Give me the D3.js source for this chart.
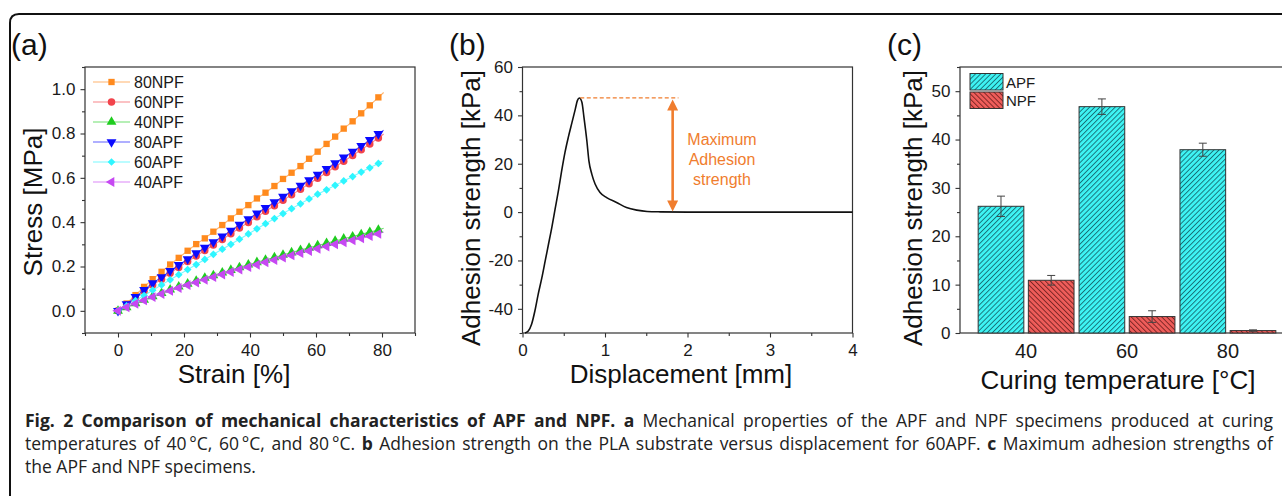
<!DOCTYPE html>
<html>
<head>
<meta charset="utf-8">
<script src="https://cdn.jsdelivr.net/npm/d3@7"></script>
<style>
    body { margin: 0; background: #fff; }
    svg { display: block; font-family: "Liberation Sans", Arial, sans-serif; }
    .caption { font-family: "Open Sans", "Noto Sans", sans-serif; }
</style>
</head>
<body>
<script>
//chart data
//(a) stress-strain curves, markers on every point except the last one
var strainPct = [0, 2.6, 5.3, 7.9, 10.5, 13.2, 15.8, 18.4, 21.1, 23.7, 26.3, 28.9, 31.6, 34.2, 36.8, 39.5,
    42.1, 44.7, 47.4, 50.0, 52.6, 55.3, 57.9, 60.5, 63.2, 65.8, 68.4, 71.1, 73.7, 76.3, 78.9, 80.5];
var stress80NPF = [0, 0.033, 0.071, 0.108, 0.143, 0.176, 0.209, 0.239, 0.271, 0.301, 0.327, 0.357, 0.387, 0.417, 0.447, 0.477,
    0.507, 0.533, 0.563, 0.595, 0.623, 0.653, 0.686, 0.718, 0.753, 0.786, 0.822, 0.855, 0.891, 0.927, 0.963, 0.985];
var stress60NPF = [0, 0.028, 0.058, 0.088, 0.116, 0.143, 0.170, 0.196, 0.222, 0.247, 0.272, 0.297, 0.322, 0.348, 0.374, 0.399,
    0.424, 0.449, 0.474, 0.499, 0.524, 0.548, 0.573, 0.598, 0.624, 0.650, 0.675, 0.701, 0.727, 0.753, 0.780, 0.798];
var stress40NPF = [0, 0.016, 0.033, 0.049, 0.065, 0.080, 0.095, 0.109, 0.122, 0.135, 0.148, 0.160, 0.172, 0.184, 0.196, 0.208,
    0.219, 0.230, 0.241, 0.252, 0.263, 0.274, 0.284, 0.295, 0.305, 0.315, 0.325, 0.335, 0.345, 0.355, 0.365, 0.373];
var stress80APF = [0, 0.030, 0.063, 0.095, 0.125, 0.152, 0.180, 0.207, 0.233, 0.260, 0.285, 0.310, 0.336, 0.362, 0.389, 0.414,
    0.440, 0.465, 0.490, 0.515, 0.540, 0.565, 0.590, 0.615, 0.641, 0.667, 0.692, 0.718, 0.744, 0.771, 0.798, 0.815];
var stress60APF = [0, 0.022, 0.046, 0.069, 0.093, 0.117, 0.140, 0.163, 0.186, 0.209, 0.232, 0.255, 0.278, 0.300, 0.323, 0.347,
    0.370, 0.393, 0.416, 0.439, 0.461, 0.483, 0.505, 0.526, 0.546, 0.566, 0.586, 0.606, 0.626, 0.645, 0.665, 0.677];
var stress40APF = [0, 0.016, 0.032, 0.047, 0.062, 0.076, 0.090, 0.103, 0.116, 0.128, 0.140, 0.152, 0.164, 0.175, 0.186, 0.197,
    0.208, 0.219, 0.229, 0.240, 0.250, 0.260, 0.270, 0.280, 0.290, 0.300, 0.309, 0.318, 0.327, 0.337, 0.347, 0.356];
var seriesNames = ["80NPF", "60NPF", "40NPF", "80APF", "60APF", "40APF"];
var seriesStress = [stress80NPF, stress60NPF, stress40NPF, stress80APF, stress60APF, stress40APF];

//(b) adhesion strength vs displacement for 60APF
var dispMm = [0.03, 0.07, 0.11, 0.15, 0.19, 0.235, 0.275, 0.315, 0.355, 0.395, 0.435, 0.475, 0.515, 0.555, 0.6, 0.64,
    0.665, 0.69, 0.72, 0.745, 0.78, 0.805, 0.84, 0.88, 0.94, 1.02, 1.14, 1.26, 1.385, 1.51, 1.67, 2.0, 3.0, 4.0];
var adhesionKPa = [-50, -49.2, -46.4, -40.9, -34, -27.1, -20.2, -13.3, -6.4, 1.2, 8.8, 17.1, 24.7, 30.9, 37.1, 42.6,
    46.1, 47.2, 45.4, 39.2, 29.5, 21.2, 15.7, 11.6, 8.1, 6.0, 4.0, 1.9, 0.8, 0.25, 0.1, 0, 0, 0];
var peakKPa = 47.2;
var peakLineMm = [0.70, 1.89]; //dashed line extent
var arrowMm = 1.82;

//(c) maximum adhesion strength
var curingTemps = ["40", "60", "80"];
var apfKPa = [26.2, 46.8, 37.9];
var apfErr = [2.1, 1.6, 1.35];
var npfKPa = [10.9, 3.4, 0.5];
var npfErr = [1.0, 1.2, 0.15];

//caption lines, bold flag per piece
var captionLines = [
    [["Fig. 2 Comparison of mechanical characteristics of APF and NPF. ", true], ["a", true],
        [" Mechanical properties of the APF and NPF specimens produced at curing", false]],
    [["temperatures of 40\u2009°C, 60\u2009°C, and 80\u2009°C. ", false], ["b", true],
        [" Adhesion strength on the PLA substrate versus displacement for 60APF. ", false], ["c", true],
        [" Maximum adhesion strengths of", false]],
    [["the APF and NPF specimens.", false]]
];

(function () {

    var width = 1282,
        height = 496;
    var top = 67, bottom = 333;
    var axisColor = "#333", textColor = "#1a1a1a";

    var svg = d3.select("body")
        .append("svg")
        .attr("width", width)
        .attr("height", height);

    svg.append("rect").attr("width", width).attr("height", height).attr("fill", "#fff");

    //outer rounded frame (only left and top edges are in view)
    svg.append("path")
        .attr("d", "M10,500 L10,23 Q10,14 19,14 L1290,14")
        .attr("fill", "none")
        .attr("stroke", "#111")
        .attr("stroke-width", 2);

    var defs = svg.append("defs");
    makeHatch("hatchAPF", "#3ef4f4", "#0d4d55", 45);
    makeHatch("hatchNPF", "#ef5d5a", "#5a1616", -45);

    setPanelA();
    setPanelB();
    setPanelC();
    setCaption();

    function makeHatch(id, fill, stroke, angle) {
        var p = defs.append("pattern")
            .attr("id", id)
            .attr("patternUnits", "userSpaceOnUse")
            .attr("width", 3.6)
            .attr("height", 3.6)
            .attr("patternTransform", "rotate(" + angle + ")");
        p.append("rect").attr("width", 3.6).attr("height", 3.6).attr("fill", fill);
        p.append("line")
            .attr("x1", 0.5).attr("y1", 0).attr("x2", 0.5).attr("y2", 3.6)
            .attr("stroke", stroke).attr("stroke-width", 0.75);
    }

    //plain box on top/right, ticks are added per axis
    function drawFrame(x0, x1) {
        svg.append("rect")
            .attr("x", x0).attr("y", top)
            .attr("width", x1 - x0).attr("height", bottom - top)
            .attr("fill", "none")
            .attr("stroke", axisColor)
            .attr("stroke-width", 1.2);
    }

    function styleAxis(g, size) {
        g.select(".domain").remove();
        g.selectAll("line").attr("stroke", axisColor).attr("stroke-width", 1.1);
        g.selectAll("text").attr("fill", textColor).style("font-size", size + "px");
    }

    function panelLabel(txt, x) {
        svg.append("text")
            .attr("x", x).attr("y", 55)
            .style("font-size", "30px")
            .attr("fill", "#111")
            .text(txt);
    }

    function axisTitles(xt, xx, xy, yt, yx, yy) {
        svg.append("text")
            .attr("x", xx).attr("y", xy)
            .attr("text-anchor", "middle")
            .style("font-size", "26px")
            .attr("fill", "#111")
            .text(xt);
        svg.append("text")
            .attr("transform", "translate(" + yx + "," + yy + ") rotate(-90)")
            .attr("text-anchor", "middle")
            .style("font-size", "26px")
            .attr("fill", "#111")
            .text(yt);
    }

    function setPanelA() {
        var x = d3.scaleLinear().domain([-10, 90]).range([85, 415]);
        var y = d3.scaleLinear().domain([-0.1, 1.1]).range([bottom, top]);
        var colors = ["#ff8a1e", "#f2434b", "#1fcc1f", "#0a0aff", "#2ef6ff", "#c648f2"];
        var symbols = [
            {type: d3.symbolSquare, size: 40, rot: 0},
            {type: d3.symbolCircle, size: 44, rot: 0},
            {type: d3.symbolTriangle, size: 42, rot: 0},
            {type: d3.symbolTriangle, size: 42, rot: 180},
            {type: d3.symbolSquare, size: 30, rot: 45},
            {type: d3.symbolTriangle, size: 42, rot: -90}
        ];

        drawFrame(85, 415);

        svg.append("g").attr("transform", "translate(0," + bottom + ")")
            .call(d3.axisBottom(x).tickValues([-10, 10, 30, 50, 70, 90]).tickSize(3).tickFormat(""))
            .call(styleAxis, 17);
        svg.append("g").attr("transform", "translate(0," + bottom + ")")
            .call(d3.axisBottom(x).tickValues([0, 20, 40, 60, 80]).tickSize(4.5).tickPadding(6))
            .call(styleAxis, 17);
        svg.append("g").attr("transform", "translate(85,0)")
            .call(d3.axisLeft(y).tickValues([-0.1, 0.1, 0.3, 0.5, 0.7, 0.9, 1.1]).tickSize(3).tickFormat(""))
            .call(styleAxis, 17);
        svg.append("g").attr("transform", "translate(85,0)")
            .call(d3.axisLeft(y).tickValues([0, 0.2, 0.4, 0.6, 0.8, 1.0]).tickSize(4.5).tickPadding(5).tickFormat(d3.format(".1f")))
            .call(styleAxis, 17);

        var line = d3.line()
            .x(function (d) { return x(d[0]); })
            .y(function (d) { return y(d[1]); });

        seriesStress.forEach(function (vals, i) {
            var pts = strainPct.map(function (s, k) { return [s, vals[k]]; });
            svg.append("path")
                .datum(pts)
                .attr("d", line)
                .attr("fill", "none")
                .attr("stroke", colors[i])
                .attr("stroke-opacity", 0.65)
                .attr("stroke-width", 1.1);
            svg.selectAll(".mk" + i)
                .data(pts.slice(0, pts.length - 1))
                .enter()
                .append("path")
                .attr("class", "mk" + i)
                .attr("d", d3.symbol().type(symbols[i].type).size(symbols[i].size))
                .attr("transform", function (d) {
                    return "translate(" + x(d[0]) + "," + y(d[1]) + ") rotate(" + symbols[i].rot + ")";
                })
                .attr("fill", colors[i]);
        });

        //legend
        seriesNames.forEach(function (name, i) {
            var ly = 82 + i * 20;
            svg.append("line")
                .attr("x1", 93).attr("x2", 130).attr("y1", ly).attr("y2", ly)
                .attr("stroke", colors[i]).attr("stroke-opacity", 0.65).attr("stroke-width", 1.1);
            svg.append("path")
                .attr("d", d3.symbol().type(symbols[i].type).size(symbols[i].size))
                .attr("transform", "translate(111.5," + ly + ") rotate(" + symbols[i].rot + ")")
                .attr("fill", colors[i]);
            svg.append("text")
                .attr("x", 134).attr("y", ly + 6)
                .style("font-size", "16px")
                .attr("fill", textColor)
                .text(name);
        });

        panelLabel("(a)", 11);
        axisTitles("Strain [%]", 234, 383, "Stress [MPa]", 41.5, 202);
    }

    function setPanelB() {
        var x = d3.scaleLinear().domain([0, 4]).range([522.5, 852.5]);
        var y = d3.scaleLinear().domain([-50, 60]).range([bottom, top]);
        var orange = "#f07d2e";

        drawFrame(522.5, 852.5);

        svg.append("g").attr("transform", "translate(0," + bottom + ")")
            .call(d3.axisBottom(x).tickValues([0.5, 1.5, 2.5, 3.5]).tickSize(3).tickFormat(""))
            .call(styleAxis, 17);
        svg.append("g").attr("transform", "translate(0," + bottom + ")")
            .call(d3.axisBottom(x).tickValues([0, 1, 2, 3, 4]).tickSize(4.5).tickPadding(6).tickFormat(function (d) { return String(d); }))
            .call(styleAxis, 17);
        svg.append("g").attr("transform", "translate(522.5,0)")
            .call(d3.axisLeft(y).tickValues([-50, -30, -10, 10, 30, 50]).tickSize(3).tickFormat(""))
            .call(styleAxis, 17);
        svg.append("g").attr("transform", "translate(522.5,0)")
            .call(d3.axisLeft(y).tickValues([-40, -20, 0, 20, 40, 60]).tickSize(4.5).tickPadding(5).tickFormat(function (d) { return String(d); }))
            .call(styleAxis, 17);

        var pts = dispMm.map(function (d, i) { return [d, adhesionKPa[i]]; });
        svg.append("path")
            .datum(pts)
            .attr("d", d3.line()
                .curve(d3.curveMonotoneX)
                .x(function (d) { return x(d[0]); })
                .y(function (d) { return y(d[1]); }))
            .attr("fill", "none")
            .attr("stroke", "#111")
            .attr("stroke-width", 1.6);

        //peak marker: dashed level line and double arrow
        svg.append("line")
            .attr("x1", x(peakLineMm[0])).attr("x2", x(peakLineMm[1]))
            .attr("y1", y(peakKPa)).attr("y2", y(peakKPa))
            .attr("stroke", orange).attr("stroke-width", 1.2)
            .attr("stroke-dasharray", "4,2.5");

        var ax = x(arrowMm), yTop = y(peakKPa) + 1.5, yBot = y(0) - 0.5;
        svg.append("line")
            .attr("x1", ax).attr("x2", ax)
            .attr("y1", yTop + 8).attr("y2", yBot - 8)
            .attr("stroke", orange).attr("stroke-width", 2.6);
        svg.append("path")
            .attr("d", "M" + ax + "," + yTop + " l-5.5,11 h11 Z M" + ax + "," + yBot + " l-5.5,-11 h11 Z")
            .attr("fill", orange);

        var tx = 722;
        ["Maximum", "Adhesion", "strength"].forEach(function (t, i) {
            svg.append("text")
                .attr("x", tx).attr("y", 145 + i * 20)
                .attr("text-anchor", "middle")
                .style("font-size", "16px")
                .attr("fill", orange)
                .text(t);
        });

        panelLabel("(b)", 449);
        axisTitles("Displacement [mm]", 681, 383, "Adhesion strength [kPa]", 480, 208);
    }

    function setPanelC() {
        var y = d3.scaleLinear().domain([0, 55]).range([bottom, top]);
        var x0 = d3.scaleBand().domain(curingTemps).range([960, 1294]).paddingInner(0.05).paddingOuter(0.18);
        var x1 = d3.scaleBand().domain(["APF", "NPF"]).range([0, x0.bandwidth()]).paddingInner(0.09);

        drawFrame(960, 1300);

        svg.append("g").attr("transform", "translate(960,0)")
            .call(d3.axisLeft(y).tickValues([5, 15, 25, 35, 45, 55]).tickSize(3).tickFormat(""))
            .call(styleAxis, 17);
        svg.append("g").attr("transform", "translate(960,0)")
            .call(d3.axisLeft(y).tickValues([0, 10, 20, 30, 40, 50]).tickSize(4.5).tickPadding(5))
            .call(styleAxis, 17);
        svg.append("g").attr("transform", "translate(0," + bottom + ")")
            .call(d3.axisBottom(x0).tickSize(0).tickPadding(11))
            .call(styleAxis, 20);

        var rows = [];
        curingTemps.forEach(function (t, i) {
            rows.push({t: t, k: "APF", v: apfKPa[i], e: apfErr[i]});
            rows.push({t: t, k: "NPF", v: npfKPa[i], e: npfErr[i]});
        });

        var bars = svg.selectAll(".bar")
            .data(rows)
            .enter()
            .append("g")
            .attr("class", "bar")
            .attr("transform", function (d) { return "translate(" + (x0(d.t) + x1(d.k)) + ",0)"; });

        bars.append("rect")
            .attr("y", function (d) { return y(d.v); })
            .attr("width", x1.bandwidth())
            .attr("height", function (d) { return y(0) - y(d.v); })
            .attr("fill", function (d) { return d.k === "APF" ? "url(#hatchAPF)" : "url(#hatchNPF)"; })
            .attr("stroke", "#333")
            .attr("stroke-width", 1);

        //error bars
        var cx = x1.bandwidth() / 2;
        bars.append("path")
            .attr("d", function (d) {
                var a = y(d.v + d.e), b = y(d.v - d.e);
                return "M" + cx + "," + a + "V" + b +
                    "M" + (cx - 4) + "," + a + "h8" +
                    "M" + (cx - 4) + "," + b + "h8";
            })
            .attr("fill", "none")
            .attr("stroke", "#444")
            .attr("stroke-width", 1);

        //legend
        [["APF", "url(#hatchAPF)"], ["NPF", "url(#hatchNPF)"]].forEach(function (it, i) {
            var ly = 73.5 + i * 18.5;
            svg.append("rect")
                .attr("x", 970).attr("y", ly)
                .attr("width", 33).attr("height", 16.5)
                .attr("fill", it[1])
                .attr("stroke", "#333").attr("stroke-width", 1);
            svg.append("text")
                .attr("x", 1006).attr("y", ly + 14)
                .style("font-size", "15px")
                .attr("fill", textColor)
                .text(it[0]);
        });

        panelLabel("(c)", 887);
        axisTitles("Curing temperature [°C]", 1118, 389, "Adhesion strength [kPa]", 921.5, 208);
    }

    function setCaption() {
        var baselines = [427, 450, 473];
        var lineWidth = 1248;
        captionLines.forEach(function (pieces, i) {
            var t = svg.append("text")
                .attr("class", "caption")
                .attr("x", 25)
                .attr("y", baselines[i])
                .style("font-size", "17.5px")
                .attr("fill", "#222")
                .attr("xml:space", "preserve");
            pieces.forEach(function (p) {
                t.append("tspan")
                    .style("font-weight", p[1] ? "bold" : "normal")
                    .text(p[0]);
            });
            //justify the first two lines by adjusting the word gaps
            if (i < 2) {
                var full = pieces.map(function (p) { return p[0]; }).join("");
                var gaps = full.split(" ").length - 1;
                var extra = lineWidth - t.node().getComputedTextLength();
                t.style("word-spacing", (extra / gaps) + "px");
            }
        });
    }

})();
</script>
</body>
</html>
